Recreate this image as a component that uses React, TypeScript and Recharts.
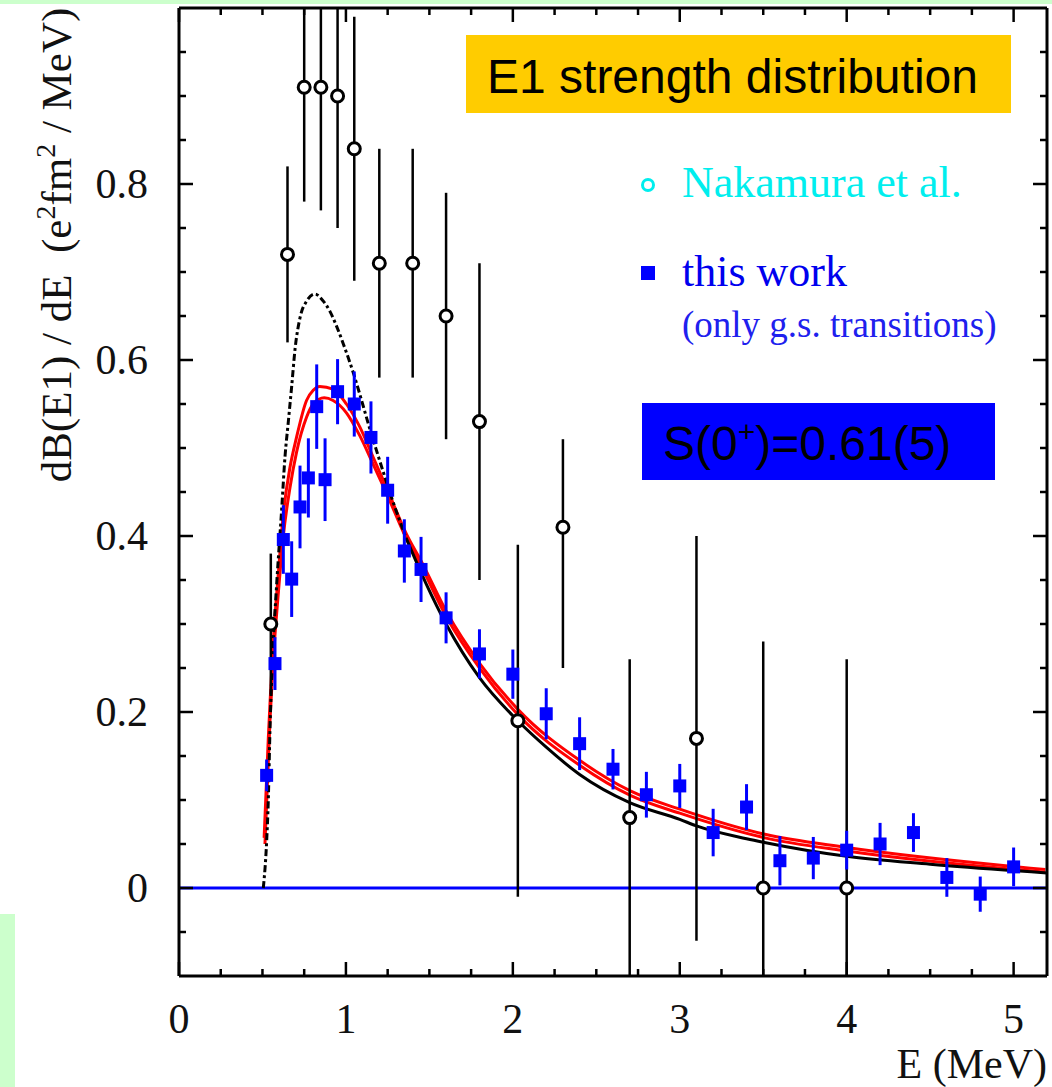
import React from 'react';
import { ComposedChart, Line, Scatter, ErrorBar, XAxis, YAxis, ReferenceLine } from 'recharts';

// Nakamura et al. (open circles)
const nakE = [0.55, 0.65, 0.75, 0.85, 0.95, 1.05, 1.2, 1.4, 1.6, 1.8, 2.03, 2.3, 2.7, 3.1, 3.5, 4.0];
const nakB = [0.30, 0.72, 0.91, 0.91, 0.90, 0.84, 0.71, 0.71, 0.65, 0.53, 0.19, 0.41, 0.08, 0.17, 0.0, 0.0];
const nakErrDown = [0.08, 0.10, 0.13, 0.14, 0.15, 0.15, 0.13, 0.13, 0.14, 0.18, 0.20, 0.16, 0.18, 0.23, 0.28, 0.26];
const nakErrUp = [0.08, 0.10, 0.13, 0.14, 0.15, 0.15, 0.13, 0.13, 0.14, 0.18, 0.20, 0.10, 0.18, 0.23, 0.28, 0.26];

// this work (filled squares)
const workE = [0.525, 0.575, 0.625, 0.675, 0.725, 0.775, 0.825, 0.875, 0.95, 1.05, 1.15, 1.25, 1.35, 1.45,
  1.6, 1.8, 2.0, 2.2, 2.4, 2.6, 2.8, 3.0, 3.2, 3.4, 3.6, 3.8, 4.0, 4.2, 4.4, 4.6, 4.8, 5.0];
const workB = [0.128, 0.255, 0.396, 0.351, 0.433, 0.466, 0.547, 0.464, 0.564, 0.55, 0.512, 0.452, 0.383, 0.362,
  0.307, 0.266, 0.243, 0.198, 0.164, 0.135, 0.106, 0.116, 0.063, 0.092, 0.031, 0.034, 0.043, 0.05, 0.063, 0.012, -0.007, 0.024];
const workErr = [0.018, 0.03, 0.039, 0.043, 0.047, 0.045, 0.048, 0.047, 0.037, 0.037, 0.041, 0.038, 0.036, 0.037,
  0.029, 0.028, 0.028, 0.029, 0.03, 0.023, 0.026, 0.025, 0.027, 0.026, 0.028, 0.024, 0.022, 0.024, 0.022, 0.022, 0.02, 0.022];

// model curves
const blackDashE = [0.505, 0.525, 0.535, 0.545, 0.56, 0.585, 0.615, 0.635, 0.655, 0.675, 0.695, 0.725, 0.765, 0.815,
  0.86, 0.905, 0.945, 0.985, 1.045, 1.1, 1.135, 1.2, 1.28, 1.36];
const blackDashB = [0.0, 0.053, 0.1, 0.18, 0.26, 0.345, 0.43, 0.49, 0.53, 0.57, 0.612, 0.648, 0.667, 0.675,
  0.668, 0.655, 0.638, 0.618, 0.585, 0.55, 0.527, 0.487, 0.44, 0.398];
const blackSolidE = [1.36, 1.48, 1.6, 1.8, 2.03, 2.2, 2.4, 2.7, 3.0, 3.1, 3.4, 3.5, 4.0, 4.5, 5.2];
const blackSolidB = [0.398, 0.346, 0.3, 0.239, 0.19, 0.16, 0.129, 0.097, 0.078, 0.0705, 0.056, 0.052, 0.036, 0.027, 0.017];
const redUpE = [0.51, 0.535, 0.545, 0.565, 0.595, 0.625, 0.665, 0.704, 0.764, 0.804, 0.843, 0.923, 1.003, 1.083,
  1.162, 1.242, 1.362, 1.455, 1.605, 1.804, 2.03, 2.404, 2.707, 3.0, 3.51, 4.0, 5.19];
const redUpB = [0.057, 0.17, 0.209, 0.281, 0.357, 0.425, 0.478, 0.512, 0.554, 0.5656, 0.57, 0.567, 0.55, 0.524,
  0.49, 0.4555, 0.4025, 0.37, 0.313, 0.2545, 0.203, 0.1445, 0.11, 0.0896, 0.061, 0.046, 0.021];
const redLoE = [0.515, 0.545, 0.565, 0.595, 0.625, 0.665, 0.704, 0.764, 0.804, 0.87, 0.923, 1.003, 1.083,
  1.162, 1.242, 1.362, 1.455, 1.605, 1.804, 2.03, 2.404, 2.707, 3.0, 3.51, 4.0, 5.19];
const redLoB = [0.05, 0.19, 0.26, 0.335, 0.4, 0.455, 0.495, 0.535, 0.55, 0.557, 0.554, 0.54, 0.514,
  0.482, 0.449, 0.397, 0.364, 0.307, 0.249, 0.197, 0.139, 0.105, 0.085, 0.057, 0.042, 0.018];

// axis ticks
const xTicks = [0, 0.25, 0.5, 0.75, 1, 1.25, 1.5, 1.75, 2, 2.25, 2.5, 2.75, 3, 3.25, 3.5, 3.75, 4, 4.25, 4.5, 4.75, 5];
const xMajor = [0, 1, 2, 3, 4, 5];
const yTicks = [-0.05, 0, 0.05, 0.1, 0.15, 0.2, 0.25, 0.3, 0.35, 0.4, 0.45, 0.5, 0.55, 0.6, 0.65, 0.7, 0.75, 0.8, 0.85, 0.9, 0.95];
const yMajor = [0, 0.2, 0.4, 0.6, 0.8];
const yMin = -0.1;
const yMax = 1.0;

// error bars are cut at the frame, like the original plot
const nakData = nakE.map((x, i) => ({
  x,
  y: nakB[i],
  err: [Math.min(nakErrDown[i], nakB[i] - yMin), Math.min(nakErrUp[i], yMax - nakB[i])],
}));
const workData = workE.map((x, i) => ({ x, y: workB[i], err: workErr[i] }));
const toCurve = (xs: number[], ys: number[]) => xs.map((x, i) => ({ x, y: ys[i] }));

const serif = '"Liberation Serif", "Times New Roman", serif';
const sans = '"Liberation Sans", Arial, sans-serif';
const isIn = (arr: number[], v: number) => arr.some((m) => Math.abs(m - v) < 1e-6);

const BottomTick = ({ x, y, payload }: any) => {
  const major = isIn(xMajor, payload.value);
  return (
    <g>
      <line x1={x} x2={x} y1={y} y2={y - (major ? 14 : 7)} stroke="#000" strokeWidth={2.5} />
      {major && (
        <text x={x} y={y + 57} textAnchor="middle" fontFamily={serif} fontSize={42} fill="#111">
          {payload.value}
        </text>
      )}
    </g>
  );
};

const TopTick = ({ x, y, payload }: any) => {
  const major = isIn(xMajor, payload.value);
  return <line x1={x} x2={x} y1={y} y2={y + (major ? 14 : 7)} stroke="#000" strokeWidth={2.5} />;
};

const LeftTick = ({ x, y, payload }: any) => {
  const major = isIn(yMajor, payload.value);
  return (
    <g>
      <line x1={x} x2={x + (major ? 14 : 7)} y1={y} y2={y} stroke="#000" strokeWidth={2.5} />
      {major && (
        <text x={148} y={y + 14} textAnchor="end" fontFamily={serif} fontSize={42} fill="#111">
          {String(payload.value)}
        </text>
      )}
    </g>
  );
};

const RightTick = ({ x, y, payload }: any) => {
  const major = isIn(yMajor, payload.value);
  return <line x1={x} x2={x - (major ? 14 : 7)} y1={y} y2={y} stroke="#000" strokeWidth={2.5} />;
};

const OpenCircle = (p: any) => (
  <circle cx={p.cx} cy={p.cy} r={6} fill="#fff" stroke="#000" strokeWidth={3} />
);
const BlueSquare = (p: any) => (
  <rect x={p.cx - 6.5} y={p.cy - 6.5} width={13} height={13} fill="#0000ff" />
);

export default function App() {
  return (
    <div style={{ position: 'absolute', left: 0, top: 0, width: 1052, height: 1087, background: '#fff', overflow: 'hidden' }}>
      <div style={{ position: 'absolute', left: 0, top: 0, width: 1052, height: 4, background: '#ccffcc' }} />
      <div style={{ position: 'absolute', left: 0, top: 914, width: 15, height: 173, background: '#ccffcc' }} />
      <div style={{ position: 'absolute', left: 0, top: 0 }}>
        <ComposedChart width={1052} height={1087} margin={{ top: 0, right: 0, bottom: 11, left: 0 }}>
          <XAxis xAxisId="b" type="number" dataKey="x" domain={[0, 5.2]} allowDataOverflow ticks={xTicks} interval={0}
            height={100} tickSize={0} tickMargin={0} tick={BottomTick} axisLine={{ stroke: '#000', strokeWidth: 3 }} />
          <XAxis xAxisId="t" orientation="top" type="number" dataKey="x" domain={[0, 5.2]} allowDataOverflow ticks={xTicks} interval={0}
            height={8} tickSize={0} tickMargin={0} tick={TopTick} axisLine={{ stroke: '#000', strokeWidth: 3 }} />
          <YAxis yAxisId="l" type="number" domain={[yMin, yMax]} allowDataOverflow ticks={yTicks} interval={0}
            width={179} tickSize={0} tickMargin={0} tick={LeftTick} axisLine={{ stroke: '#000', strokeWidth: 3 }} />
          <YAxis yAxisId="r" orientation="right" type="number" domain={[yMin, yMax]} allowDataOverflow ticks={yTicks} interval={0}
            width={5} tickSize={0} tickMargin={0} tick={RightTick} axisLine={{ stroke: '#000', strokeWidth: 3 }} />

          <ReferenceLine xAxisId="b" yAxisId="l" y={0} stroke="#0000ff" strokeWidth={3} />

          <Line xAxisId="b" yAxisId="l" data={toCurve(redUpE, redUpB)} dataKey="y" type="monotone"
            stroke="#ff0000" strokeWidth={3} dot={false} activeDot={false} isAnimationActive={false} />
          <Line xAxisId="b" yAxisId="l" data={toCurve(redLoE, redLoB)} dataKey="y" type="monotone"
            stroke="#ff0000" strokeWidth={3} dot={false} activeDot={false} isAnimationActive={false} />
          <Line xAxisId="b" yAxisId="l" data={toCurve(blackDashE, blackDashB)} dataKey="y" type="monotone"
            stroke="#000" strokeWidth={3} strokeDasharray="7 3 3 3" dot={false} activeDot={false} isAnimationActive={false} />
          <Line xAxisId="b" yAxisId="l" data={toCurve(blackSolidE, blackSolidB)} dataKey="y" type="monotone"
            stroke="#000" strokeWidth={3} dot={false} activeDot={false} isAnimationActive={false} />

          <Scatter xAxisId="b" yAxisId="l" data={nakData} dataKey="y" shape={OpenCircle} isAnimationActive={false}>
            <ErrorBar dataKey="err" direction="y" width={0} stroke="#000" strokeWidth={2.5} isAnimationActive={false} />
          </Scatter>
          <Scatter xAxisId="b" yAxisId="l" data={workData} dataKey="y" shape={BlueSquare} isAnimationActive={false}>
            <ErrorBar dataKey="err" direction="y" width={0} stroke="#0000ff" strokeWidth={3} isAnimationActive={false} />
          </Scatter>
        </ComposedChart>
      </div>

      <svg width={1052} height={1087} style={{ position: 'absolute', left: 0, top: 0, pointerEvents: 'none' }}>
        <text transform="translate(71,245) rotate(-90)" textAnchor="middle" fontFamily={serif} fontSize={43} fill="#111">
          {'dB(E1) / dE\u00a0\u00a0(e'}<tspan dy={-16} fontSize={28}>2</tspan><tspan dy={16}>fm</tspan>
          <tspan dy={-16} fontSize={28}>2</tspan><tspan dy={16}>{'\u00a0/ MeV)'}</tspan>
        </text>
        <text x={1047} y={1078} textAnchor="end" fontFamily={serif} fontSize={42} fill="#111">E (MeV)</text>

        <rect x={466} y={35} width={545} height={78} fill="#ffcc00" />
        <text x={487} y={93} fontFamily={sans} fontSize={48} fill="#000">E1 strength distribution</text>

        <circle cx={648} cy={185} r={5.5} fill="#fff" stroke="#00eeee" strokeWidth={3} />
        <text x={682} y={197} fontFamily={serif} fontSize={44} fill="#00eeee">Nakamura et al.</text>
        <rect x={641} y={266} width={14} height={14} fill="#0000ff" />
        <text x={682} y={286} fontFamily={serif} fontSize={44} fill="#0000ee">this work</text>
        <text x={682} y={337} fontFamily={serif} fontSize={37} fill="#2020ee">(only g.s. transitions)</text>

        <rect x={642} y={403} width={353} height={77} fill="#0000ff" />
        <text x={663} y={460} fontFamily={sans} fontSize={48} fill="#000">
          S(0<tspan dy={-18} fontSize={30}>+</tspan><tspan dy={18}>)=0.61(5)</tspan>
        </text>
      </svg>
    </div>
  );
}
